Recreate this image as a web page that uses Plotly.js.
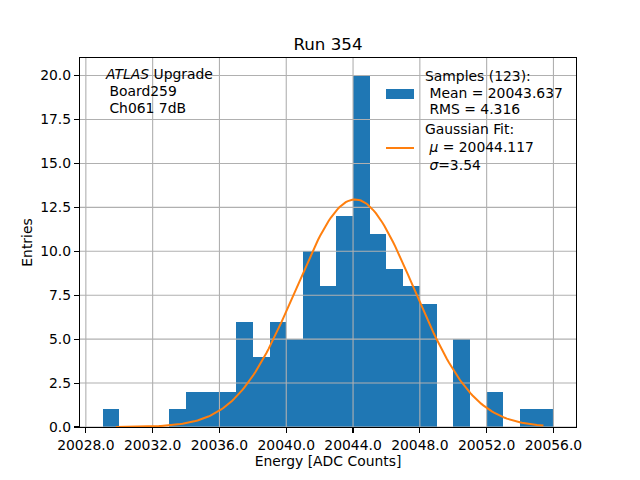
<!DOCTYPE html>
<html>
<head>
<meta charset="utf-8">
<script src="https://cdn.plot.ly/plotly-3.0.1.min.js"></script>
<style>html,body{margin:0;padding:0;background:#fff;}#chart{width:640px;height:480px;}</style>
</head>
<body>
<div id="chart"></div>
<script>
// Histogram data: left edge of each 1-count-wide bin and entries per bin
const binLefts = [20029,20030,20031,20032,20033,20034,20035,20036,20037,20038,20039,20040,20041,20042,20043,20044,20045,20046,20047,20048,20049,20050,20051,20052,20053,20054,20055];
const counts   = [1,0,0,0,1,2,2,2,6,4,6,5,10,8,12,20,11,9,8,7,0,5,0,2,0,1,1];
const binWidth = 1;
// Gaussian fit parameters (from legend) and drawn range
const fitMu = 20044.117;
const fitSigma = 3.54;
const fitAmp = 12.95;
const fitRange = [20029.8, 20055.4];
// Axis ticks
const xTicks = [20028, 20032, 20036, 20040, 20044, 20048, 20052, 20056];
const yTicks = [0, 2.5, 5, 7.5, 10, 12.5, 15, 17.5, 20];
const xRange = [20027.65, 20057.35];
const yRange = [0, 21];
// Text
const titleText = 'Run 354';
const xTitle = 'Energy [ADC Counts]';
const yTitle = 'Entries';
const sampleLines = ['Samples (123):', ' Mean = 20043.637', ' RMS = 4.316'];
const fitLines = ['Gaussian Fit:', ' <i>μ</i> = 20044.117', ' <i>σ</i>=3.54'];
const infoLines = ['<i>ATLAS</i> Upgrade', ' Board259', ' Ch061 7dB'];

const barX = binLefts.map(v => v + binWidth / 2);
const nPts = 200;
const fitX = [], fitY = [];
for (let i = 0; i < nPts; i++) {
  const x = fitRange[0] + (fitRange[1] - fitRange[0]) * i / (nPts - 1);
  fitX.push(x);
  fitY.push(fitAmp * Math.exp(-0.5 * Math.pow((x - fitMu) / fitSigma, 2)));
}

// grid lines drawn above bars, below the fit line (matplotlib order)
const gx = [], gy = [];
xTicks.forEach(t => { gx.push(t, t, null); gy.push(yRange[0], yRange[1], null); });
yTicks.forEach(t => { gx.push(xRange[0], xRange[1], null); gy.push(t, t, null); });

const FONT = 'DejaVu Sans, sans-serif';
const FS = 13.9;
const L = 80, R = 576, T = 58, B = 427;
const px = v => (v - L) / (R - L);
const py = v => (B - v) / (B - T);

const annotations = [];
function addLine(text, x, y) {
  annotations.push({text: text, xref: 'paper', yref: 'paper', x: px(x), y: py(y),
    xanchor: 'left', yanchor: 'middle', showarrow: false, font: {family: FONT, size: FS, color: '#000'}});
}
infoLines.forEach((t, i) => addLine(t, 103, 74 + i * 17));
sampleLines.forEach((t, i) => addLine(t, 423, 76 + i * 16.6));
fitLines.forEach((t, i) => addLine(t, 423, 129 + i * 18));

const shapes = [
  {type: 'rect', xref: 'paper', yref: 'paper', x0: px(386), x1: px(414), y0: py(99), y1: py(89),
   fillcolor: '#1f77b4', line: {width: 0}},
  {type: 'line', xref: 'paper', yref: 'paper', x0: px(386), x1: px(414), y0: py(148), y1: py(148),
   line: {color: '#ff7f0e', width: 2}}
];

const data = [
  {type: 'bar', x: barX, y: counts, width: binWidth, marker: {color: '#1f77b4', line: {width: 0}},
   showlegend: false},
  {type: 'scatter', mode: 'lines', x: gx, y: gy, line: {color: '#b0b0b0', width: 1.1},
   connectgaps: false, showlegend: false, hoverinfo: 'skip'},
  {type: 'scatter', mode: 'lines', x: fitX, y: fitY, line: {color: '#ff7f0e', width: 2},
   showlegend: false}
];

const axisCommon = {
  showline: true, linecolor: '#000', linewidth: 1.1, mirror: true,
  ticks: 'outside', ticklen: 5, tickwidth: 1.1, tickcolor: '#000',
  showgrid: false, layer: 'above traces',
  zeroline: false, tickfont: {family: FONT, size: FS, color: '#000'},
  tickformat: '.1f', tickmode: 'array'
};

const layout = {
  width: 640, height: 480,
  margin: {l: L, r: 640 - R, t: T, b: 480 - B, pad: 0},
  paper_bgcolor: '#fff', plot_bgcolor: '#fff',
  bargap: 0,
  title: {text: titleText, font: {family: FONT, size: 16.7, color: '#000'}, x: 0.5125, xanchor: 'center', y: 1 - 44/480, yanchor: 'middle'},
  xaxis: Object.assign({}, axisCommon, {range: xRange, tickvals: xTicks,
    title: {text: xTitle, font: {family: FONT, size: FS, color: '#000'}, standoff: 4}}),
  yaxis: Object.assign({}, axisCommon, {range: yRange, tickvals: yTicks,
    title: {text: yTitle, font: {family: FONT, size: FS, color: '#000'}, standoff: 4}}),
  annotations: annotations,
  shapes: shapes,
  showlegend: false
};

Plotly.newPlot('chart', data, layout, {staticPlot: true, displayModeBar: false});
</script>
</body>
</html>
